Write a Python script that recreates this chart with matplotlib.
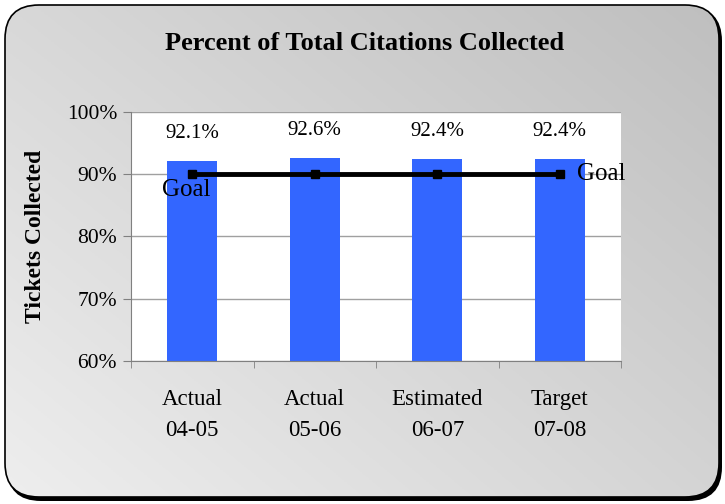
import matplotlib.pyplot as plt
import numpy as np
from matplotlib.patches import FancyBboxPatch

plt.rcParams['font.family'] = ['Liberation Serif', 'DejaVu Serif']

# data
categories = ["Actual\n04-05", "Actual\n05-06", "Estimated\n06-07", "Target\n07-08"]
collected = [92.1, 92.6, 92.4, 92.4]
goal = [90, 90, 90, 90]
yticks = [60, 70, 80, 90, 100]

W, H = 725, 504
fig = plt.figure(figsize=(W / 100, H / 100), dpi=100)

# background panel: rounded box with a soft gradient
bg = fig.add_axes([0, 0, 1, 1])
bg.axis("off")
shadow = FancyBboxPatch((7, 7), 715, 494, boxstyle="round,pad=0,rounding_size=34",
                        fc="black", ec="none")
bg.add_patch(shadow)
panel = FancyBboxPatch((5, 5), 714, 492, boxstyle="round,pad=0,rounding_size=34",
                       fc="none", ec="black", lw=1.2, zorder=3)
bg.add_patch(panel)
u, v = np.meshgrid(np.linspace(0, 1, 200), np.linspace(0, 1, 200))
tl, tr, bl, br = 0xd8, 0xbf, 0xee, 0xd4
g = (tl * (1 - u) * (1 - v) + tr * u * (1 - v) + bl * (1 - u) * v + br * u * v) / 255
rgb = np.dstack([g, g, g])
img = bg.imshow(rgb, extent=[5, 719, 497, 5], aspect="auto", zorder=2)
clip = FancyBboxPatch((5, 5), 714, 492, boxstyle="round,pad=0,rounding_size=34",
                      transform=bg.transData)
img.set_clip_path(clip)
bg.set_xlim(0, W)
bg.set_ylim(H, 0)

fig.text(365 / W, 1 - 43 / H, "Percent of Total Citations Collected",
         ha="center", va="center", fontsize=19, fontweight="bold")
fig.text(36 / W, 1 - 236 / H, "Tickets Collected", rotation=90,
         ha="center", va="center", fontsize=17, fontweight="bold")

# main chart
ax = fig.add_axes([131 / W, (H - 361) / H, 490 / W, 249 / H])
x = np.arange(len(categories))
ax.bar(x, collected, width=0.41, color="#3366ff", zorder=2)
ax.plot(x, goal, color="black", lw=3.5, marker="s", ms=6, zorder=3)

for xi, v in zip(x, collected):
    ax.annotate(f"{v}%", (xi, v), xytext=(0, 20), textcoords="offset points",
                ha="center", va="center", fontsize=15)

ax.text(x[0] - 0.05, goal[0] - 2.6, "Goal", ha="center", va="center", fontsize=18)
ax.text(x[-1] + 0.14, goal[-1], "Goal", ha="left", va="center", fontsize=18)

ax.set_xlim(-0.5, 3.5)
ax.set_ylim(60, 100)
ax.set_yticks(yticks)
ax.set_yticklabels([f"{v}%" for v in yticks], fontsize=15.5)
ax.set_xticks(x)
ax.set_xticklabels(categories, fontsize=16.5, linespacing=1.65)
ax.set_xticks(np.arange(-0.5, 4, 1), minor=True)
ax.tick_params(axis="x", which="major", length=0, pad=20)
ax.tick_params(axis="x", which="minor", length=5, color="#808080")
ax.tick_params(axis="y", length=6, color="#808080", pad=4)
ax.grid(axis="y", color="#a0a0a0", lw=1, zorder=0)
ax.set_axisbelow(True)
for s in ["top", "right"]:
    ax.spines[s].set_visible(False)
for s in ["left", "bottom"]:
    ax.spines[s].set_color("#808080")

fig.savefig("out.png", dpi=100)
